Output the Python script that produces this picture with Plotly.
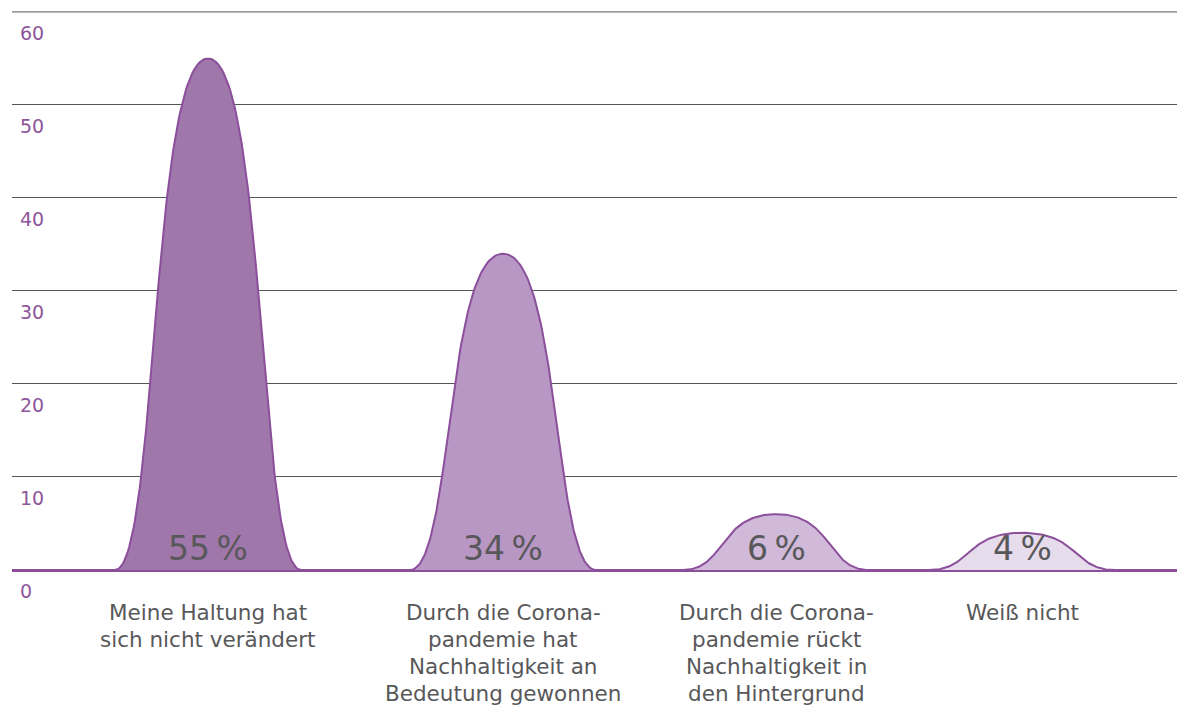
import numpy as np
import plotly.graph_objects as go

# ---- data ----
categories = [
    "Meine Haltung hat<br>sich nicht verändert",
    "Durch die Corona-<br>pandemie hat<br>Nachhaltigkeit an<br>Bedeutung gewonnen",
    "Durch die Corona-<br>pandemie rückt<br>Nachhaltigkeit in<br>den Hintergrund",
    "Weiß nicht",
]
values = [55, 34, 6, 4]
value_labels = ["55\u2009%", "34\u2009%", "6\u2009%", "4\u2009%"]
y_ticks = [0, 10, 20, 30, 40, 50, 60]

# ---- layout / style ----
W, H = 1177, 707
x_centers = [208, 503, 776, 1022]   # horizontal placement of each category (pixel-like units)
half_width = 93
fills = ["#a077ab", "#b997c4", "#d1b9d9", "#e7dcec"]
outline = "#8b4f9b"
purple_text = "#8d569b"
grey_text = "#58585a"
grid_color = "#555555"
font_family = "DejaVu Sans, sans-serif"


def mountain(cx, hw, v, n=80):
    # cubic bezier mountain shape: flat foot, steep flank, rounded top
    a, b = 0.46, 0.62
    s = np.linspace(0, 1, n)
    p0 = np.array([-1.0, 0.0]); p1 = np.array([-1.0 + a, 0.0])
    p2 = np.array([-b, 1.0]); p3 = np.array([0.0, 1.0])
    pts = ((1 - s)[:, None] ** 3 * p0 + 3 * ((1 - s) ** 2 * s)[:, None] * p1
           + 3 * ((1 - s) * s ** 2)[:, None] * p2 + (s ** 3)[:, None] * p3)
    lx, ly = pts[:, 0], pts[:, 1]
    xs = np.concatenate([lx, -lx[::-1][1:]])
    ys = np.concatenate([ly, ly[::-1][1:]])
    return cx + hw * xs, v * ys


fig = go.Figure()
for cx, v, fc in zip(x_centers, values, fills):
    xs, ys = mountain(cx, half_width, v)
    fig.add_trace(go.Scatter(
        x=xs, y=ys, mode="lines", fill="toself", fillcolor=fc,
        line=dict(color=outline, width=2), hoverinfo="skip", showlegend=False,
    ))

annotations = []
# value labels inside the shapes
for cx, lab in zip(x_centers, value_labels):
    annotations.append(dict(
        x=cx, y=0, xref="x", yref="y", text=lab, showarrow=False,
        yanchor="bottom", yshift=0,
        font=dict(family=font_family, size=33, color=grey_text),
    ))
# category labels below baseline
for cx, cat in zip(x_centers, categories):
    for i, line in enumerate(cat.split("<br>")):
        annotations.append(dict(
            x=cx, y=0, xref="x", yref="y", text=line, showarrow=False,
            yanchor="middle", yshift=-(42 + 27 * i),
            font=dict(family=font_family, size=21.5, color=grey_text),
        ))
# y tick labels (below each gridline, inside the plot)
for t in y_ticks:
    annotations.append(dict(
        x=0, y=t, xref="paper", yref="y", text=str(t), showarrow=False,
        xanchor="left", yanchor="middle", xshift=6, yshift=-21,
        font=dict(family=font_family, size=19, color=purple_text),
    ))

fig.update_layout(
    width=W, height=H,
    margin=dict(l=12, r=0, t=11, b=137),
    plot_bgcolor="white", paper_bgcolor="white",
    xaxis=dict(range=[12, 1177], showgrid=False, zeroline=False,
               showticklabels=False, fixedrange=True),
    yaxis=dict(range=[0, 60.1], tickvals=y_ticks, showticklabels=False,
               showgrid=True, gridcolor=grid_color, gridwidth=1,
               zeroline=True, zerolinecolor=outline, zerolinewidth=2.5,
               fixedrange=True),
    annotations=annotations,
    shapes=[dict(type="line", xref="paper", yref="y", x0=0, x1=1,
                 y0=max(y_ticks), y1=max(y_ticks),
                 line=dict(color=grid_color, width=1), layer="below")],
    showlegend=False,
)

fig.write_html("out.html", config={"displayModeBar": False})
with open("out.html", encoding="utf-8") as f:
    html = f.read()
html = html.replace("<head>", "<head><style>html,body{margin:0;padding:0;}</style>", 1)
with open("out.html", "w", encoding="utf-8") as f:
    f.write(html)
